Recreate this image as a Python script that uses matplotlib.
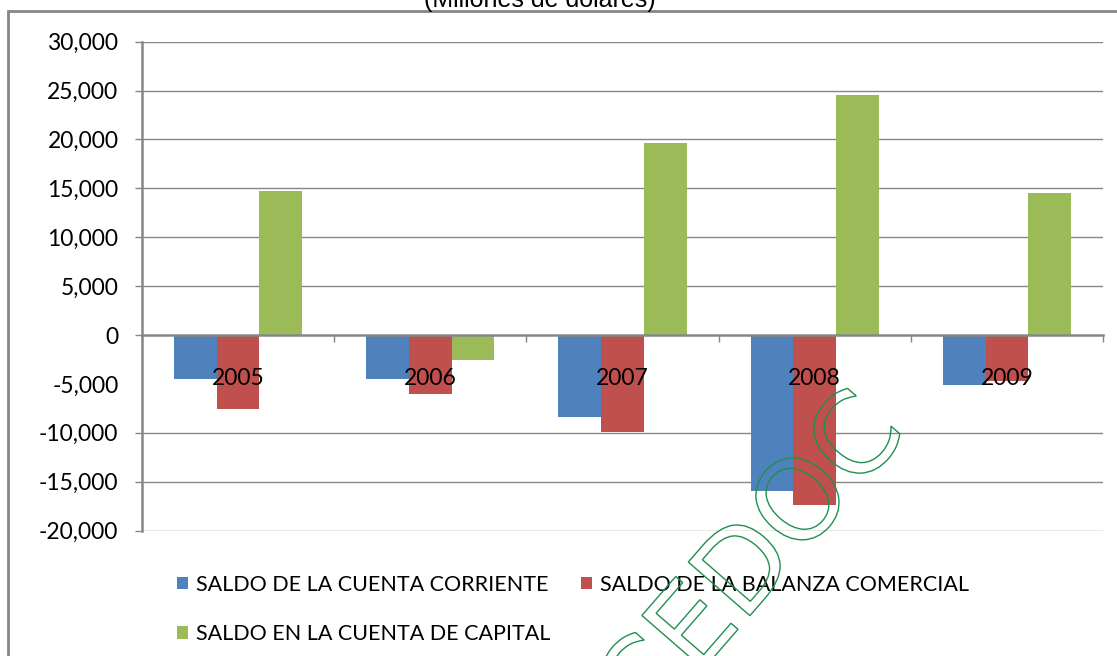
import numpy as np
import matplotlib
matplotlib.use("Agg")
import matplotlib.pyplot as plt
from matplotlib.patches import Rectangle, PathPatch
from matplotlib.textpath import TextPath
from matplotlib.font_manager import FontProperties
import matplotlib.transforms as mtransforms
from matplotlib.ticker import FixedLocator, FuncFormatter

years = ["2005", "2006", "2007", "2008", "2009"]
corriente = [-4500, -4500, -8400, -15900, -5100]
balanza = [-7600, -6000, -9900, -17400, -4700]
capital = [14700, -2600, 19600, 24500, 14500]
series_names = ["SALDO DE LA CUENTA CORRIENTE",
                "SALDO DE LA BALANZA COMERCIAL",
                "SALDO EN LA CUENTA DE CAPITAL"]
colors = ["#4f81bd", "#c0504d", "#9bbb59"]
grid_color = "#868686"

plt.rcParams["font.family"] = ["Lato", "DejaVu Sans"]

fig = plt.figure(figsize=(11.17, 6.56), dpi=100)
ax = fig.add_axes([142 / 1117, 1 - 530.6 / 656, (1103 - 142) / 1117, (530.6 - 41.7) / 656])

x = np.arange(len(years))
w = 0.222
bars = []
for k, vals in enumerate([corriente, balanza, capital]):
    bars.append(ax.bar(x + (k - 1) * w, vals, width=w, color=colors[k],
                       label=series_names[k], zorder=2))

ax.set_xlim(-0.5, len(years) - 0.5)
ax.set_ylim(-20000, 30000)

# y ticks: -5000 has a label but no tick mark / gridline in the original
major = [v for v in range(-20000, 30001, 5000) if v != -5000]
ax.yaxis.set_major_locator(FixedLocator(major))
ax.yaxis.set_minor_locator(FixedLocator([-5000]))
fmt = FuncFormatter(lambda v, p: f"{int(v):,}")
ax.yaxis.set_major_formatter(fmt)
ax.yaxis.set_minor_formatter(fmt)
ax.tick_params(axis="y", which="major", length=5, width=1, color=grid_color, pad=12, labelsize=16.5)
ax.tick_params(axis="y", which="minor", length=0, pad=17, labelsize=16.5)

for v in major:
    if v != 0:
        ax.axhline(v, color=grid_color, lw=1, zorder=0.5)

# category axis sits on zero
ax.spines["bottom"].set_position(("data", 0))
ax.spines["bottom"].set_color(grid_color)
ax.spines["bottom"].set_linewidth(1.8)
ax.xaxis.set_major_locator(FixedLocator(np.arange(len(years) + 1) - 0.5))
ax.xaxis.set_major_formatter(FuncFormatter(lambda v, p: ""))
ax.xaxis.set_minor_locator(FixedLocator(x))
ax.set_xticklabels(years, minor=True)
ax.tick_params(axis="x", which="major", length=5, width=1, color=grid_color, direction="out")
ax.tick_params(axis="x", which="minor", length=0, pad=24, labelsize=16.5)

ax.spines["left"].set_color(grid_color)
ax.spines["left"].set_linewidth(1.8)
for s in ["top", "right"]:
    ax.spines[s].set_visible(False)
ax.set_axisbelow(False)

# legend fills column-wise, so reorder to get the row layout of the original
order = [0, 2, 1]
leg = fig.legend([bars[i] for i in order], [series_names[i] for i in order],
                 loc="upper left", bbox_to_anchor=(168 / 1117, 1 - 566 / 656), ncol=2,
                 frameon=False, fontsize=15.5, handlelength=0.55, handleheight=0.55,
                 handletextpad=0.35, columnspacing=1.4, labelspacing=1.35, borderaxespad=0)

fig.text(540 / 1117, 1 - 7 / 656, "(Millones de dólares)", ha="center", va="baseline",
         fontsize=18, family="Liberation Sans")

# outer chart frame
fig.add_artist(Rectangle((8 / 1117, -0.1), 1.2, 1 - 11 / 656 + 0.1, transform=fig.transFigure,
                         fill=False, edgecolor=grid_color, lw=2))

# watermark
tp = TextPath((0, 0), "CEDOC", size=112, prop=FontProperties(family="DejaVu Sans"))
bb = tp.get_extents()
tr = (mtransforms.Affine2D().translate(-bb.width / 2 - bb.x0, -bb.height / 2 - bb.y0)
      .rotate_deg(49).translate(746, 656 - 558))
fig.add_artist(PathPatch(tr.transform_path(tp), facecolor="none", edgecolor="#1f8f4f",
                         lw=1, transform=mtransforms.IdentityTransform(), zorder=10))

fig.savefig("out.png", dpi=100)
